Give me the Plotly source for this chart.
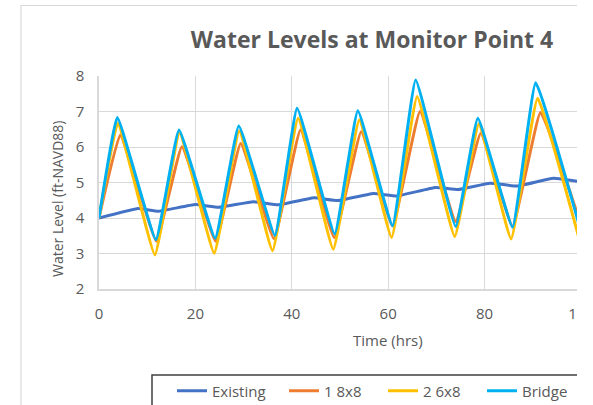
import plotly.graph_objects as go

# ---- data ----
existing_t = [0, 8.1, 12.3, 20, 24.8, 32, 37.2, 44.6, 49.5, 56.9, 61.8, 69.8, 74.5, 81.1, 86.8, 94.3, 100]
existing_v = [4.0, 4.27, 4.19, 4.38, 4.30, 4.46, 4.37, 4.57, 4.49, 4.69, 4.62, 4.86, 4.80, 4.98, 4.90, 5.12, 5.02]

c18_t = [0, 4.4, 11.9, 17.2, 24.2, 29.4, 36.3, 41.8, 48.8, 54.4, 60.9, 66.6, 74.0, 79.2, 85.8, 91.6, 100]
c18_v = [4.0, 6.34, 3.35, 6.01, 3.35, 6.10, 3.42, 6.48, 3.45, 6.43, 3.78, 7.00, 3.90, 6.39, 3.76, 6.97, 3.80]

c26_t = [0, 3.9, 11.6, 16.7, 23.9, 29.1, 36.0, 41.3, 48.6, 54.0, 60.7, 66.0, 73.8, 78.8, 85.5, 91.0, 100]
c26_v = [4.0, 6.67, 2.96, 6.40, 3.01, 6.45, 3.08, 6.81, 3.12, 6.76, 3.45, 7.42, 3.48, 6.65, 3.41, 7.37, 3.22]

bridge_t = [0, 3.8, 11.8, 16.6, 24.1, 29.0, 36.5, 41.1, 48.9, 53.7, 60.9, 65.7, 74.0, 78.6, 85.8, 90.6, 100]
bridge_v = [4.0, 6.83, 3.39, 6.48, 3.43, 6.59, 3.51, 7.09, 3.55, 7.02, 3.78, 7.89, 3.76, 6.81, 3.74, 7.81, 3.62]

series_names = ["Existing", "1 8x8", "2 6x8", "Bridge"]
series_t = [existing_t, c18_t, c26_t, bridge_t]
series_v = [existing_v, c18_v, c26_v, bridge_v]
series_colors = ["#4472C4", "#ED7D31", "#FFC000", "#00B0F0"]

x_ticks = [0, 20, 40, 60, 80, 100]
y_ticks = [2, 3, 4, 5, 6, 7, 8]

FONT = "Open Sans"
GREY = "#595959"

W, H = 593, 405
L, R, T, B = 99, 12, 76, 116
PW, PH = W - L - R, H - T - B


def px(xp):
    return (xp - L) / PW


def py(yp):
    return (H - B - yp) / PH


# legend text start positions (pixels) in the reference
legend_text_x = [212, 324, 423, 522]
legend_ids = ["legend", "legend2", "legend3", "legend4"]

fig = go.Figure()
for name, t, v, col, lid in zip(series_names, series_t, series_v, series_colors, legend_ids):
    fig.add_trace(go.Scatter(
        x=t, y=v, name=name, mode="lines", legend=lid,
        line=dict(color=col, width=3, shape="spline", smoothing=0.3),
    ))

legend_common = dict(
    orientation="h", xanchor="left", yanchor="middle",
    bgcolor="rgba(0,0,0,0)", borderwidth=0,
    font=dict(family=FONT, size=15, color=GREY),
)
layout_legends = {}
for lid, tx in zip(legend_ids, legend_text_x):
    layout_legends[lid] = dict(legend_common, x=px(tx - 40), y=py(391))

fig.update_layout(
    width=W, height=H,
    margin=dict(l=L, r=R, t=T, b=B, autoexpand=False),
    paper_bgcolor="white", plot_bgcolor="white",
    font=dict(family=FONT, color=GREY, size=14),
    showlegend=True,
    title=dict(
        text="<b>Water Levels at Monitor Point 4</b>",
        x=px(372), xref="paper", xanchor="center",
        y=1 - 40 / H, yref="container", yanchor="middle",
        font=dict(family=FONT, size=23, color=GREY),
    ),
    **layout_legends,
)

fig.update_xaxes(
    range=[0, 100], tickvals=x_ticks, ticktext=[str(v) for v in x_ticks],
    showgrid=True, gridcolor="#D9D9D9", gridwidth=1,
    showline=True, linecolor="#D9D9D9", linewidth=1.5,
    zeroline=False, ticks="", ticklabelstandoff=10,
    ticklabeloverflow="allow",
    tickfont=dict(family=FONT, size=15, color=GREY),
)
fig.update_yaxes(
    range=[2, 8], tickvals=y_ticks, ticktext=[str(v) for v in y_ticks],
    showgrid=True, gridcolor="#D9D9D9", gridwidth=1,
    showline=True, linecolor="#D9D9D9", linewidth=1.5,
    zeroline=False, ticks="", ticklabelstandoff=10,
    tickfont=dict(family=FONT, size=15, color=GREY),
)

fig.add_annotation(
    text="Water Level (ft-NAVD88)", textangle=-90,
    x=px(57), y=py(199), xref="paper", yref="paper",
    showarrow=False, xanchor="center", yanchor="middle",
    font=dict(family=FONT, size=14, color=GREY),
)
fig.add_annotation(
    text="Time (hrs)",
    x=px(388), y=py(340), xref="paper", yref="paper",
    showarrow=False, xanchor="center", yanchor="middle",
    font=dict(family=FONT, size=15, color=GREY),
)

# outer chart-area border (top and left edges visible)
fig.add_shape(type="rect", xref="paper", yref="paper",
              x0=px(21), x1=px(700), y0=py(500), y1=py(5.5),
              line=dict(color="#D9D9D9", width=1.2), fillcolor="rgba(0,0,0,0)",
              layer="below")
# legend box (cropped at the bottom)
fig.add_shape(type="rect", xref="paper", yref="paper",
              x0=px(152), x1=px(700), y0=py(500), y1=py(375),
              line=dict(color="#404040", width=1.5), fillcolor="rgba(0,0,0,0)",
              layer="above")
# the reference picture is cropped on the right
fig.add_shape(type="rect", xref="paper", yref="paper",
              x0=px(577), x1=px(700), y0=py(500), y1=py(-10),
              line=dict(width=0), fillcolor="white", layer="above")

fig.write_html("out.html", config={"displayModeBar": False},
               post_script="document.body.style.margin='0';")
